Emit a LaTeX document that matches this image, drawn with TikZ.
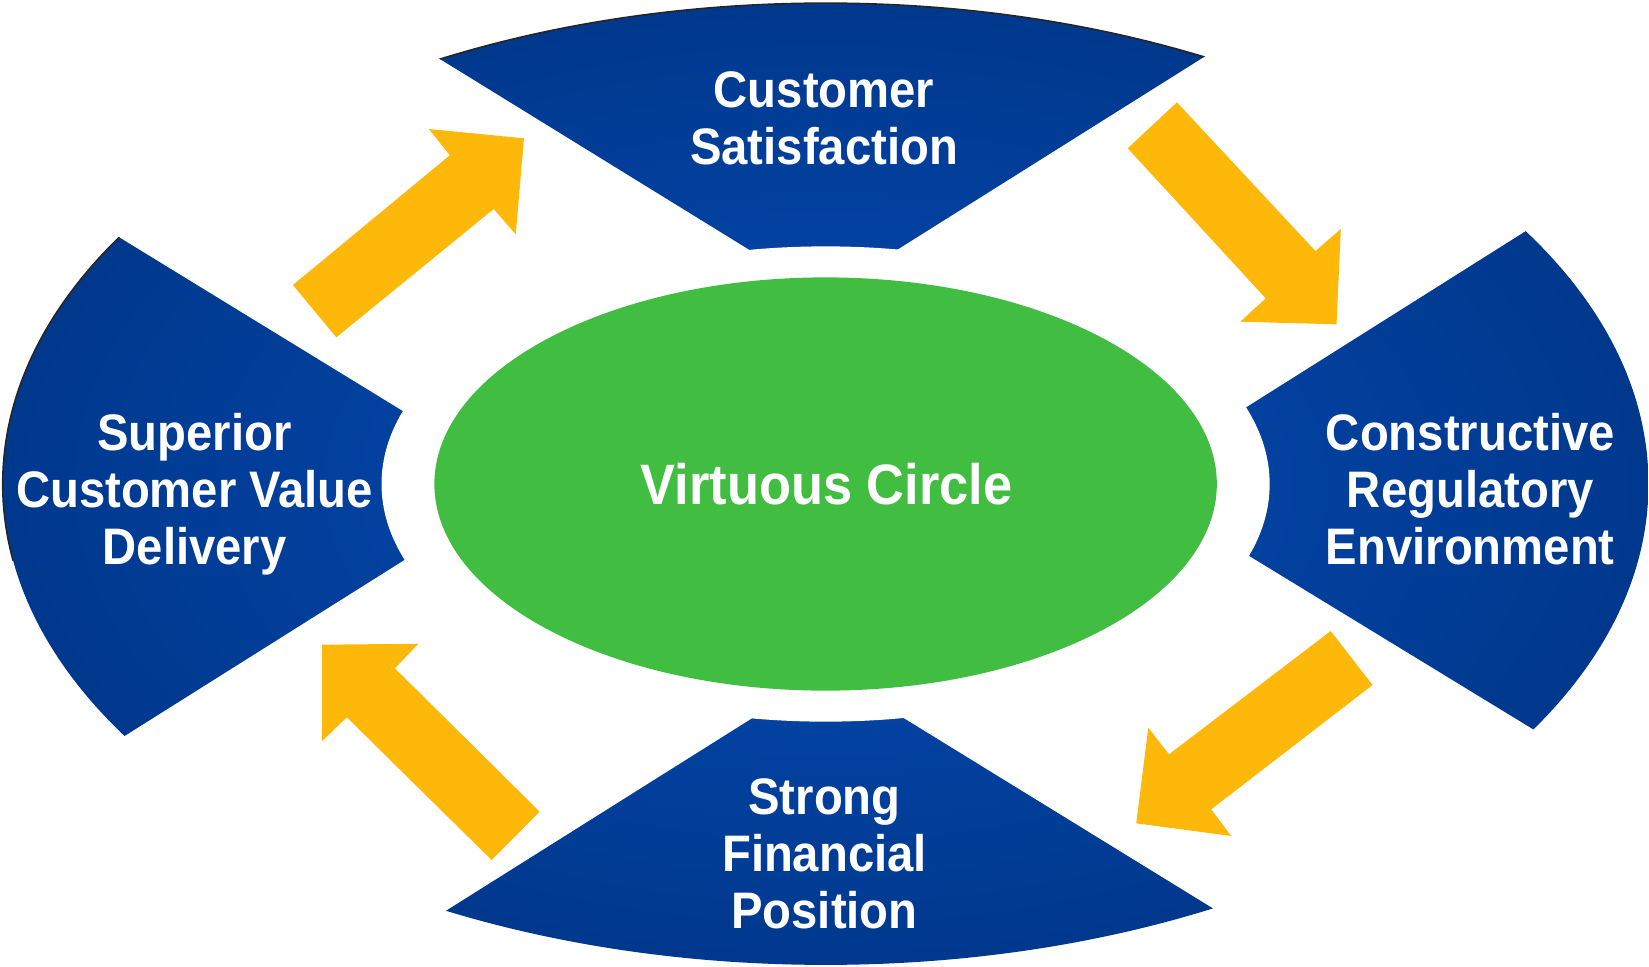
\documentclass[tikz,border=0pt]{standalone}
\usepackage{fontspec}
\usepackage{tikz}
\usetikzlibrary{calc}
\newfontfamily\labelfont{Liberation Sans}[FakeStretch=0.92]
\definecolor{ringouter}{HTML}{00388D}
\definecolor{ringmid}{HTML}{0342A2}
\definecolor{ringinner}{HTML}{0848AE}
\definecolor{hubgreen}{HTML}{41BD41}
\definecolor{flowyellow}{HTML}{FDB80A}
\pgfdeclareradialshading{ringshade}{\pgfpointorigin}{color(0bp)=(ringinner); color(12bp)=(ringmid); color(25bp)=(ringouter); color(50bp)=(ringouter)}
\tikzset{
  sectorlabel/.style={text=white,align=center,inner sep=0pt,font=\labelfont\bfseries\fontsize{14.6}{16.2}\selectfont},
  hublabel/.style={text=white,inner sep=0pt,font=\labelfont\bfseries\fontsize{16.2}{18}\selectfont},
  cyclearrow/.style={fill=flowyellow},
  rimshadow/.style={draw=black!85,line width=0.45pt}
}

\begin{document}
\begin{tikzpicture}[x=0.01cm,y=-0.01cm]
  \path[use as bounding box,fill=white] (0,0) rectangle (1649,966);
  \coordinate (centre) at (825.6,484);
  % sector edges: outer end, inner end
  \coordinate (tl-o) at (437.8,57.7);   \coordinate (tl-i) at (746.9,248.3);
  \coordinate (tr-o) at (1206,55.7);    \coordinate (tr-i) at (900.4,247.7);
  \coordinate (rt-o) at (1526.4,230.7); \coordinate (rt-i) at (1247.2,406.7);
  \coordinate (rb-o) at (1533.2,729.3); \coordinate (rb-i) at (1249.3,556);
  \coordinate (br-o) at (1213.9,909);   \coordinate (br-i) at (904.6,718.7);
  \coordinate (bl-o) at (445.6,911);    \coordinate (bl-i) at (751,719);
  \coordinate (lb-o) at (124.5,736);    \coordinate (lb-i) at (404.3,560);
  \coordinate (lt-o) at (118.2,236.7);  \coordinate (lt-i) at (402.2,410.7);

  % blue ring, cut into four sectors
  \begin{scope}
    \clip ($(tl-o)!-0.5!(tl-i)$) -- ($(tl-i)!-0.2!(tl-o)$) -- ($(tr-i)!-0.2!(tr-o)$) -- ($(tr-o)!-0.5!(tr-i)$) -- cycle
          ($(rt-o)!-0.5!(rt-i)$) -- ($(rt-i)!-0.2!(rt-o)$) -- ($(rb-i)!-0.2!(rb-o)$) -- ($(rb-o)!-0.5!(rb-i)$) -- cycle
          ($(br-o)!-0.5!(br-i)$) -- ($(br-i)!-0.2!(br-o)$) -- ($(bl-i)!-0.2!(bl-o)$) -- ($(bl-o)!-0.5!(bl-i)$) -- cycle
          ($(lb-o)!-0.5!(lb-i)$) -- ($(lb-i)!-0.2!(lb-o)$) -- ($(lt-i)!-0.2!(lt-o)$) -- ($(lt-o)!-0.5!(lt-i)$) -- cycle;
    \shade[shading=ringshade] (centre) ellipse [x radius=8.224cm,y radius=4.806cm];
    \begin{scope}
      \clip (0,0) rectangle (1300,560);
      \draw[rimshadow] (centre) ellipse [x radius=8.224cm,y radius=4.806cm];
    \end{scope}
  \end{scope}
  \fill[white] (centre) ellipse [x radius=4.438cm,y radius=2.375cm];

  \fill[hubgreen] (centre) ellipse [x radius=3.91cm,y radius=2.065cm];

  % arrows between the sectors
  \fill[cyclearrow] (292.9,285) -- (449.8,155.3) -- (428.9,129) -- (524,138.3)
    -- (515.7,234.3) -- (493.7,209) -- (336.3,337.3) -- cycle;
  \fill[cyclearrow] (1176.9,102.3) -- (1315.4,251) -- (1340.8,229) -- (1336.5,324.3)
    -- (1240.3,321.7) -- (1265.7,298.3) -- (1127.7,148.3) -- cycle;
  \fill[cyclearrow] (1372.5,685) -- (1211.2,809.3) -- (1231.3,836) -- (1136.2,823.3)
    -- (1148.3,727.7) -- (1169,754.3) -- (1330.7,631) -- cycle;
  \fill[cyclearrow] (322.2,644.7) -- (418.4,643.7) -- (394.9,668.3) -- (539.7,811.7)
    -- (491.6,860) -- (346.8,717.3) -- (322.2,741) -- cycle;

  \node[sectorlabel] (custsat) at (824,118) {Customer\\Satisfaction};
  \node[sectorlabel] (regenv) at (1470.3,488.7) {Constructive\\Regulatory\\Environment};
  \node[sectorlabel] (finpos) at (824.5,854.2) {Strong\\Financial\\Position};
  \node[sectorlabel] (valdel) at (194.6,494.1) {Superior\\Customer Value\\Delivery};
  \node[hublabel,anchor=base] (virtuous) at (826.6,504.8) {Virtuous Circle};
\end{tikzpicture}
\end{document}
